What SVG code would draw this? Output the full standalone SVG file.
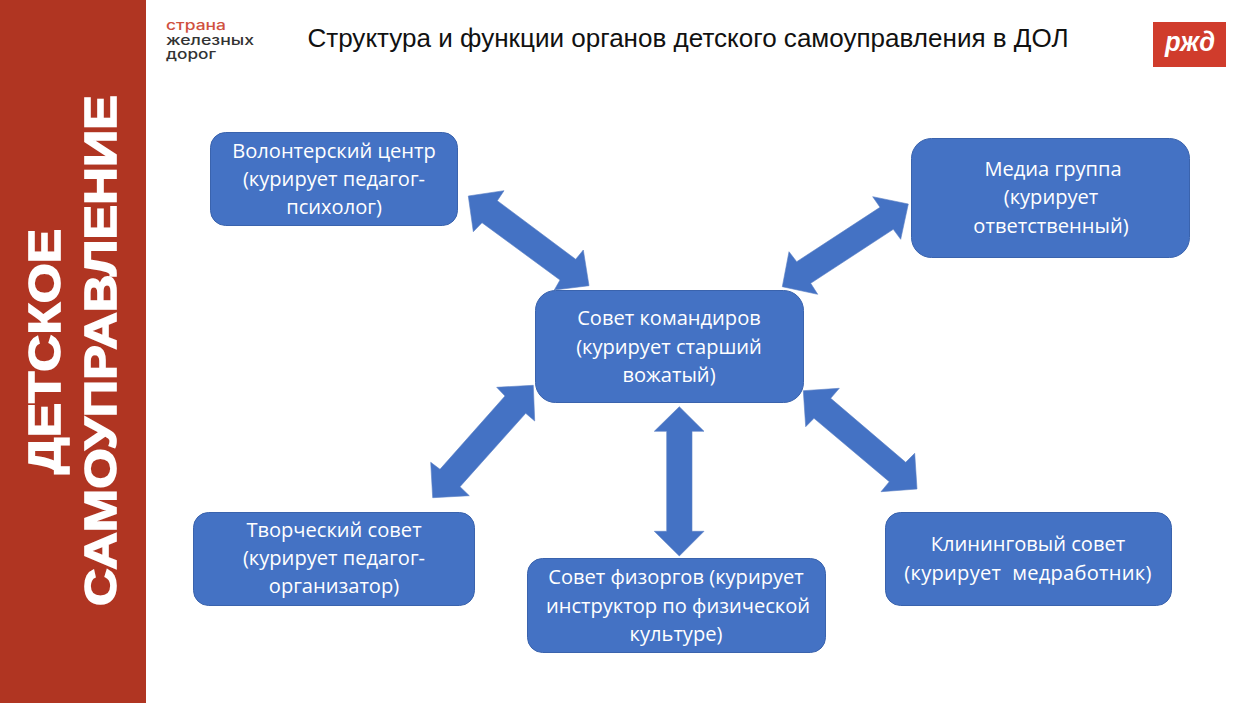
<svg xmlns="http://www.w3.org/2000/svg" width="1250" height="703" viewBox="0 0 1250 703">
<style>
.box{fill:#4472c4;stroke:#3a63ad;stroke-width:1}
.arrow{fill:#4472c4;stroke:#5b7fc4;stroke-width:.6}
.t{font-family:"Open Sans","Noto Sans",sans-serif;font-size:20.100px;fill:#fff;text-anchor:middle}
.side{font-family:"Liberation Sans",Arial,sans-serif;font-weight:700;font-size:45px;fill:#fff;stroke:#fff;stroke-width:1.600;text-anchor:middle}
.logo{font-family:Inter,"Noto Sans",sans-serif;font-weight:500;font-size:13.500px}
</style>
<rect width="1250" height="703" fill="#fff"/>
<g id="sidebar">
<rect x="0" y="0" width="146" height="703" fill="#b03522"/>
<text class="side" transform="translate(60.200 351.500) rotate(-90)" textLength="245" lengthAdjust="spacingAndGlyphs">ДЕТСКОЕ</text>
<text class="side" transform="translate(116.200 350.500) rotate(-90)" textLength="511" lengthAdjust="spacingAndGlyphs">САМОУПРАВЛЕНИЕ</text>
</g>
<g id="logo-text">
<text class="logo" x="166" y="30" fill="#d0513f" textLength="60" lengthAdjust="spacingAndGlyphs">страна</text>
<text class="logo" x="166" y="45" fill="#333" textLength="88" lengthAdjust="spacingAndGlyphs">железных</text>
<text class="logo" x="166" y="59" fill="#333" textLength="50" lengthAdjust="spacingAndGlyphs">дорог</text>
</g>
<text id="title" x="688" y="47" font-family="'Liberation Sans',Arial,sans-serif" font-size="26.050" fill="#111" text-anchor="middle">Структура и функции органов детского самоуправления в ДОЛ</text>
<g id="rzd-logo">
<rect x="1153" y="22" width="73" height="45" fill="#d03c2c"/>
<text x="1190" y="51" font-family="'Liberation Sans',Arial,sans-serif" font-weight="700" font-style="italic" font-size="27" fill="#fff" text-anchor="middle" textLength="50" lengthAdjust="spacingAndGlyphs">ржд</text>
</g>
<g id="connectors">
<polygon class="arrow" points="468.3,196 504,190.7 497.3,200.7 575.7,259.3 583.3,250 589,285.7 554.3,290 560,280 482,222.7 473.3,231.7"/>
<polygon class="arrow" points="908.3,204 872.7,196.7 880,207.3 796.7,261.7 789,251.7 782.3,286.7 817.7,294.3 810.7,283.3 893.3,229.3 900.7,239.3"/>
<polygon class="arrow" points="533.3,385.3 496.7,387.3 505,396 440,469.3 430.7,462.3 432.7,497.7 469.3,495.7 460,486.7 525.7,413.3 534.7,421"/>
<polygon class="arrow" points="679.3,406.7 704,431.3 692,431.3 692,531.3 704,531.3 679.3,556 654.3,531.3 666.7,531.3 666.7,431.3 654.3,431.3"/>
<polygon class="arrow" points="803.3,390.7 839.3,388.3 830.7,398.3 905.7,462.3 914.7,453.3 917,489 881,491.7 889.3,481.7 814,418.3 805.7,426.7"/>
</g>
<g id="node-volunteer">
<rect class="box" x="210.500" y="132.500" width="247" height="93" rx="15"/>
<text class="t" x="334" y="158">Волонтерский центр</text>
<text class="t" x="334" y="186">(курирует педагог-</text>
<text class="t" x="334" y="214">психолог)</text>
</g>
<g id="node-media">
<rect class="box" x="911.500" y="138.500" width="278" height="119" rx="20"/>
<text class="t" x="1053" y="176">Медиа группа</text>
<text class="t" x="1051" y="204">(курирует</text>
<text class="t" x="1051" y="233">ответственный)</text>
</g>
<g id="node-council">
<rect class="box" x="535.500" y="290.500" width="268" height="112" rx="20"/>
<text class="t" x="669" y="325">Совет командиров</text>
<text class="t" x="669" y="354">(курирует старший</text>
<text class="t" x="669" y="382">вожатый)</text>
</g>
<g id="node-creative">
<rect class="box" x="193.500" y="512.500" width="281" height="93" rx="15"/>
<text class="t" x="334" y="537">Творческий совет</text>
<text class="t" x="334" y="565">(курирует педагог-</text>
<text class="t" x="334" y="593">организатор)</text>
</g>
<g id="node-sport">
<rect class="box" x="527.500" y="558.500" width="298" height="94" rx="15"/>
<text class="t" x="676" y="584">Совет физоргов (курирует</text>
<text class="t" x="678" y="613">инструктор по физической</text>
<text class="t" x="676" y="641">культуре)</text>
</g>
<g id="node-cleaning">
<rect class="box" x="885.500" y="512.500" width="286" height="93" rx="15"/>
<text class="t" x="1028" y="551">Клининговый совет</text>
<text class="t" x="1028" y="580" xml:space="preserve" letter-spacing=".26">(курирует  медработник)</text>
</g>
</svg>
